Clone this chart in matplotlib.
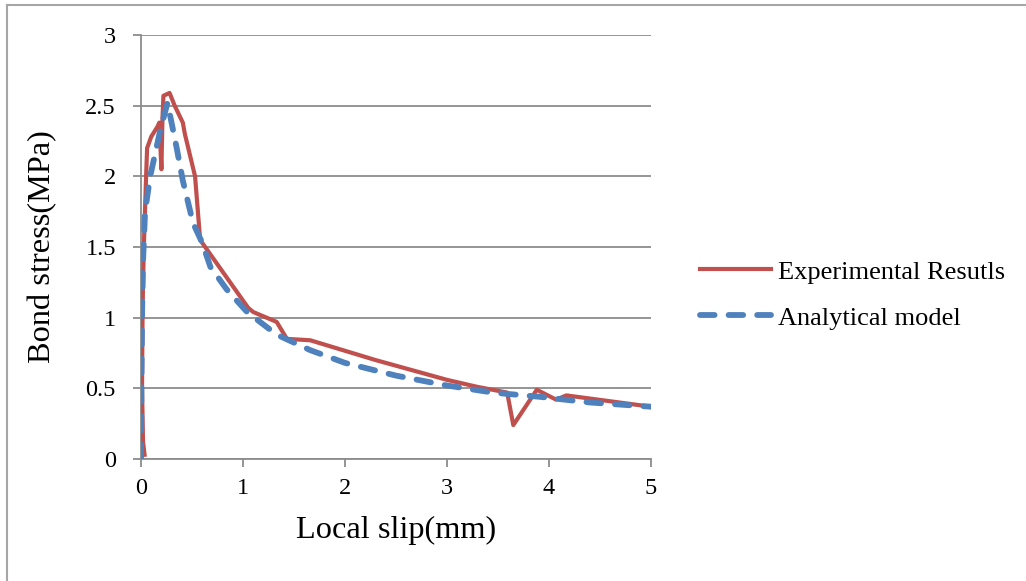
import matplotlib
matplotlib.use('Agg')
import matplotlib.pyplot as plt
from matplotlib.lines import Line2D

# experimental bond-slip curve
exp_slip = [0.035, 0.02, 0.01, 0.015, 0.02, 0.03, 0.05, 0.06, 0.10, 0.16, 0.18, 0.20, 0.21,
            0.22, 0.28, 0.33, 0.41, 0.43, 0.53, 0.58, 1.05, 1.10, 1.33, 1.43, 1.66,
            2.30, 3.00, 3.30, 3.59, 3.65, 3.88, 4.07, 4.17, 5.00]
exp_stress = [0.03, 0.12, 0.50, 1.00, 1.25, 1.55, 2.00, 2.20, 2.28, 2.35, 2.38, 2.05, 2.40,
              2.57, 2.59, 2.50, 2.38, 2.30, 2.00, 1.55, 1.07, 1.04, 0.97, 0.85, 0.84,
              0.70, 0.56, 0.51, 0.47, 0.24, 0.49, 0.42, 0.45, 0.37]

# analytical model
ana_slip = [0.0, 0.005, 0.01, 0.02, 0.04, 0.09, 0.19, 0.26, 0.35, 0.41, 0.51, 0.60,
            0.68, 0.84, 1.04, 1.33, 1.66, 2.00, 2.50, 3.00, 3.45, 3.91, 4.40, 5.00]
ana_stress = [0.0, 0.60, 1.00, 1.40, 1.75, 2.00, 2.33, 2.52, 2.20, 1.97, 1.67, 1.53,
              1.36, 1.20, 1.04, 0.88, 0.77, 0.68, 0.59, 0.52, 0.47, 0.44, 0.40, 0.37]

xticks = [0, 1, 2, 3, 4, 5]
yticks = [0, 0.5, 1, 1.5, 2, 2.5, 3]
ytick_labels = ['0', '0.5', '1', '1.5', '2', '2.5', '3']

plt.rcParams['font.family'] = ['Liberation Serif', 'DejaVu Serif']

fig = plt.figure(figsize=(10.26, 5.81), dpi=100)
ax = fig.add_axes([141 / 1026, 1 - 459 / 581, 510 / 1026, 424 / 581])

red = '#C0504D'
blue = '#4F81BD'
ax.plot(exp_slip, exp_stress, color=red, lw=3.0, solid_joinstyle='round',
        label='Experimental Resutls', zorder=3)
ax.plot(ana_slip, ana_stress, color=blue, lw=4.2, dashes=(2.5, 2.4),
        dash_capstyle='round', label='Analytical model', zorder=4)

ax.set_xlim(0, 5)
ax.set_ylim(0, 3)
ax.set_xticks(xticks)
ax.set_yticks(yticks)
ax.set_yticklabels(ytick_labels)
ax.grid(axis='y', color='#8c8c8c', lw=1.3)
ax.set_axisbelow(True)
for s in ('top', 'right'):
    ax.spines[s].set_visible(False)
for s in ('left', 'bottom'):
    ax.spines[s].set_color('#8c8c8c')
    ax.spines[s].set_linewidth(1.3)
ax.tick_params(axis='both', direction='out', length=6, width=1.3, color='#8c8c8c',
               labelsize=17.5)
ax.tick_params(axis='y', pad=12)
ax.tick_params(axis='x', pad=8)

ax.set_xlabel('Local slip(mm)', fontsize=23.3, labelpad=12)
ax.set_ylabel('Bond stress(MPa)', fontsize=23.3, labelpad=20)

ax.legend(loc='center left', bbox_to_anchor=(1.05, 0.387), frameon=False,
          fontsize=19, handlelength=2.7, handletextpad=0.25, labelspacing=0.85)

# outer chart border (top and left)
fig.add_artist(Line2D([7 / 1026, 1025 / 1026], [1 - 5 / 581, 1 - 5 / 581],
                      color='#a6a6a6', lw=1.5))
fig.add_artist(Line2D([7 / 1026, 7 / 1026], [1 - 5 / 581, 0],
                      color='#a6a6a6', lw=1.5))

fig.savefig('out.png', dpi=100)
